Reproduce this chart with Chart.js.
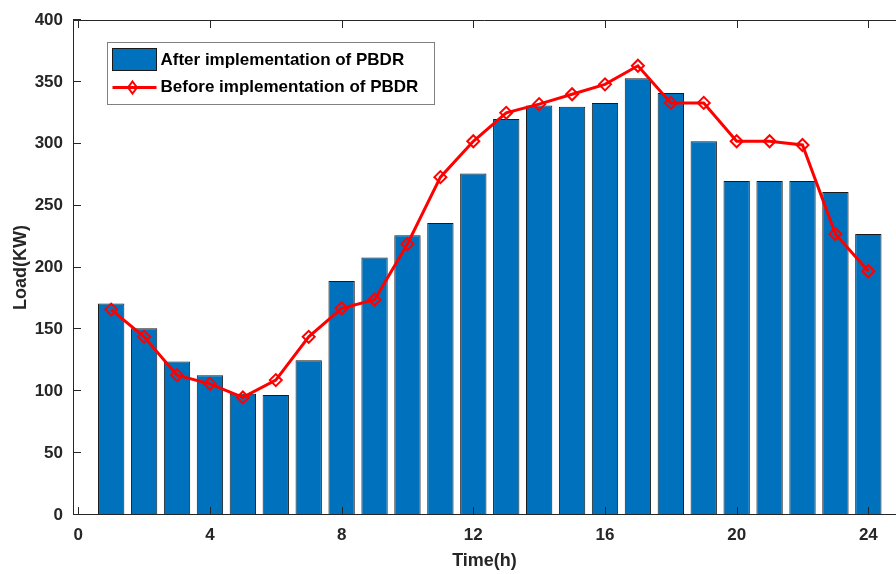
<!DOCTYPE html>
<html>
<head>
<meta charset="utf-8">
<script src="https://cdn.jsdelivr.net/npm/chart.js@4/dist/chart.umd.min.js"></script>
<style>
  html, body { margin: 0; padding: 0; background: #fff; }
  #wrap { width: 896px; height: 574px; }
</style>
</head>
<body>
<div id="wrap"><canvas id="c"></canvas></div>
<script>
// hours 1..24
const hours = [1,2,3,4,5,6,7,8,9,10,11,12,13,14,15,16,17,18,19,20,21,22,23,24];
const afterPBDR = [171,151,124,113,98,97,125,189,208,226,236,276,320,331,330,333,353,341,302,270,270,270,261,227];
const beforePBDR = [166,144,113,106,95,109,144,167,174,219,273,302,325,332,340,348,363,333,333,302,302,299,227,197];
const xTicks = [0,4,8,12,16,20,24];
const yTicks = [0,50,100,150,200,250,300,350,400];

const axisColor = "#262626";
const font = "Liberation Sans, Arial, sans-serif";

// MATLAB-ish box + inward ticks
const boxTicks = {
  id: "boxTicks",
  afterDatasetsDraw(chart) {
    const ctx = chart.ctx;
    const a = chart.chartArea;
    const xs = chart.scales.x, ys = chart.scales.y;
    const len = 8;
    ctx.save();
    ctx.strokeStyle = axisColor;
    ctx.lineWidth = 1;
    ctx.beginPath();
    ctx.moveTo(a.left + 0.5, a.top + 0.5);
    ctx.lineTo(a.right, a.top + 0.5);
    ctx.moveTo(a.left + 0.5, a.top);
    ctx.lineTo(a.left + 0.5, a.bottom);
    ctx.moveTo(a.left, a.bottom - 0.5);
    ctx.lineTo(a.right, a.bottom - 0.5);
    xTicks.forEach((v) => {
      const px = Math.round(xs.getPixelForValue(v)) + 0.5;
      ctx.moveTo(px, a.bottom);
      ctx.lineTo(px, a.bottom - len);
      ctx.moveTo(px, a.top);
      ctx.lineTo(px, a.top + len);
    });
    yTicks.forEach((v) => {
      const py = Math.round(ys.getPixelForValue(v)) - 0.5;
      ctx.moveTo(a.left, py);
      ctx.lineTo(a.left + len, py);
    });
    ctx.stroke();
    ctx.restore();
  },
};

// legend box inside the axes, top-left
const boxLegend = {
  id: "boxLegend",
  afterDraw(chart) {
    const ctx = chart.ctx;
    const a = chart.chartArea;
    const x0 = a.left + 34.5, y0 = a.top + 22.5;
    const w = 327, h = 62;
    const bar = chart.data.datasets[1];
    const line = chart.data.datasets[0];
    ctx.save();
    ctx.fillStyle = "#fff";
    ctx.fillRect(x0, y0, w, h);
    ctx.strokeStyle = "#808080";
    ctx.lineWidth = 1;
    ctx.strokeRect(x0, y0, w, h);

    // bar swatch
    ctx.fillStyle = bar.backgroundColor;
    ctx.fillRect(x0 + 5, y0 + 6, 44, 22);
    ctx.strokeStyle = bar.borderColor;
    ctx.strokeRect(x0 + 5, y0 + 6, 44, 22);

    // line swatch
    const ly = y0 + 45;
    ctx.strokeStyle = line.borderColor;
    ctx.lineWidth = 3;
    ctx.beginPath();
    ctx.moveTo(x0 + 5, ly);
    ctx.lineTo(x0 + 49, ly);
    ctx.stroke();
    const cx = x0 + 25, r = 6;
    ctx.lineWidth = 2;
    ctx.beginPath();
    ctx.moveTo(cx, ly - r);
    ctx.lineTo(cx + r * 0.75, ly);
    ctx.lineTo(cx, ly + r);
    ctx.lineTo(cx - r * 0.75, ly);
    ctx.closePath();
    ctx.stroke();

    ctx.fillStyle = "#000";
    ctx.font = "bold 17px " + font;
    ctx.textBaseline = "middle";
    ctx.fillText(bar.label, x0 + 53, y0 + 18);
    ctx.fillText(line.label, x0 + 53, ly);
    ctx.restore();
  },
};

new Chart(document.getElementById("c"), {
  type: "bar",
  data: {
    datasets: [
      {
        type: "line",
        label: "Before implementation of PBDR",
        data: hours.map((h, i) => ({ x: h, y: beforePBDR[i] })),
        borderColor: "#ff0000",
        borderWidth: 3,
        pointStyle: "rectRot",
        pointRadius: 6,
        pointBorderWidth: 2,
        pointBackgroundColor: "rgba(0,0,0,0)",
        pointBorderColor: "#ff0000",
        tension: 0,
        order: 0,
      },
      {
        type: "bar",
        label: "After implementation of PBDR",
        data: hours.map((h, i) => ({ x: h, y: afterPBDR[i] })),
        backgroundColor: "#0072BD",
        borderColor: "#1a1a1a",
        borderWidth: 1,
        barPercentage: 0.8,
        categoryPercentage: 1,
        order: 1,
      },
    ],
  },
  options: {
    responsive: true,
    maintainAspectRatio: false,
    animation: false,
    layout: { autoPadding: false, padding: { top: 20, left: 0, right: 0, bottom: 0 } },
    plugins: {
      legend: { display: false },
      tooltip: { enabled: false },
    },
    scales: {
      x: {
        type: "linear",
        offset: false,
        min: -0.16,
        max: 24.84,
        afterBuildTicks: (s) => { s.ticks = xTicks.map((v) => ({ value: v })); },
        afterFit: (s) => { s.height = 59; s.paddingLeft = 0; s.paddingRight = 0; },
        grid: { display: false, drawTicks: false },
        border: { display: false },
        ticks: {
          padding: 10,
          color: axisColor,
          maxRotation: 0,
          autoSkip: false,
          font: { family: font, size: 17, weight: "bold" },
        },
        title: {
          display: true,
          text: "Time(h)",
          color: axisColor,
          padding: { top: 0, bottom: 2 },
          font: { family: font, size: 18, weight: "bold" },
        },
      },
      y: {
        min: 0,
        max: 400,
        afterBuildTicks: (s) => { s.ticks = yTicks.map((v) => ({ value: v })); },
        afterFit: (s) => { s.width = 73; s.paddingTop = 0; s.paddingBottom = 0; },
        grid: { display: false, drawTicks: false },
        border: { display: false },
        ticks: {
          padding: 10,
          color: axisColor,
          font: { family: font, size: 17, weight: "bold" },
        },
        title: {
          display: true,
          text: "Load(KW)",
          color: axisColor,
          padding: { top: 10, bottom: 0 },
          font: { family: font, size: 18, weight: "bold" },
        },
      },
    },
  },
  plugins: [boxTicks, boxLegend],
});
</script>
</body>
</html>
